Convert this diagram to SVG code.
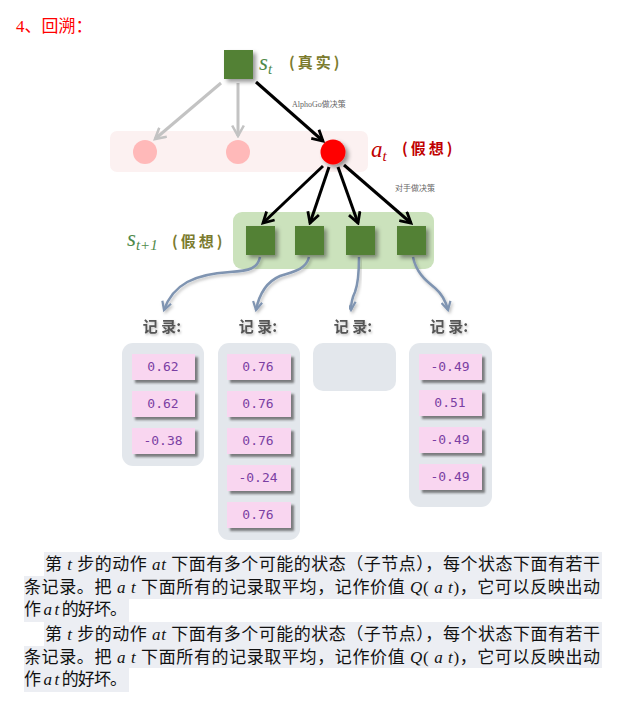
<svg xmlns="http://www.w3.org/2000/svg" width="619" height="702" viewBox="0 0 619 702">
<style>
.sq{fill:#538135;filter:url(#sh)}
.cell{fill:#f9d6f0;filter:url(#csh)}
.num{font-family:"DejaVu Sans Mono","Liberation Mono",monospace;font-size:13px;fill:#7b3fa3;text-anchor:middle}
.box{fill:#e3e7ec}
.rec{font-family:"Noto Sans CJK SC",sans-serif;font-size:15px;font-weight:bold;fill:#555;text-anchor:middle;filter:url(#tsh)}
.small{font-family:"Liberation Serif","Noto Sans CJK SC",serif;font-size:8px;fill:#666}
.body{font-family:"Liberation Serif","Noto Sans CJK SC",serif;font-size:17px;fill:#111}
.it{font-style:italic}
.hl{fill:#eceef3}
.lbl{font-family:"Noto Sans CJK SC",sans-serif;font-weight:bold;font-size:15px;letter-spacing:3px}
.math{font-family:"Liberation Serif",serif;font-style:italic;font-size:23px}
.grey{stroke:#c3c3c3;stroke-width:3;fill:none;marker-end:url(#mg)}
.blk{stroke:#000;stroke-width:3;fill:none;marker-end:url(#mb)}
.blue{stroke:#7f94b1;stroke-width:2.5;fill:none;marker-end:url(#mu);filter:url(#lsh)}
</style>
<defs>
<filter id="sh" x="-30%" y="-30%" width="170%" height="170%"><feDropShadow dx="3" dy="3" stdDeviation="2" flood-color="#000" flood-opacity="0.4"/></filter>
<filter id="csh" x="-20%" y="-30%" width="150%" height="180%"><feDropShadow dx="3" dy="3" stdDeviation="1.2" flood-color="#333" flood-opacity="0.6"/></filter>
<filter id="tsh" x="-20%" y="-30%" width="150%" height="180%"><feDropShadow dx="1" dy="1.5" stdDeviation="1" flood-color="#000" flood-opacity="0.25"/></filter>
<filter id="lsh" x="-20%" y="-20%" width="150%" height="150%"><feDropShadow dx="1.5" dy="2" stdDeviation="1.5" flood-color="#000" flood-opacity="0.25"/></filter>
<marker id="mg" viewBox="0 0 12 12" refX="10" refY="6" markerWidth="14" markerHeight="14" markerUnits="userSpaceOnUse" orient="auto"><path d="M1,1 L10,6 L1,11" fill="none" stroke="#c3c3c3" stroke-width="2.2"/></marker>
<marker id="mb" viewBox="0 0 12 12" refX="10" refY="6" markerWidth="14" markerHeight="14" markerUnits="userSpaceOnUse" orient="auto"><path d="M1,1 L10,6 L1,11" fill="none" stroke="#000" stroke-width="2.4"/></marker>
<marker id="mu" viewBox="0 0 12 12" refX="10" refY="6" markerWidth="11" markerHeight="11" markerUnits="userSpaceOnUse" orient="auto"><path d="M1,1 L10,6 L1,11" fill="none" stroke="#7f94b1" stroke-width="2.4"/></marker>
</defs>
<rect width="619" height="702" fill="#fff"/>
<text x="16" y="32" font-family="Liberation Serif,'Noto Sans CJK SC',serif" font-size="17" fill="#ff0000">4、回溯：</text>

<g id="bands">
<rect x="110" y="131" width="258" height="41" rx="7" fill="#fcf1f1"/>
<rect x="233" y="212" width="201" height="57" rx="9" fill="#cbe2bc"/>
</g>

<g id="connectors">
<path class="grey" d="M221,83 L155,139"/>
<path class="grey" d="M238,83 L238,136"/>
<path class="blk" d="M256,82 L323,141"/>
<path class="blk" d="M323,166 L263,223"/>
<path class="blk" d="M329,167 L310,223"/>
<path class="blk" d="M338,167 L358,223"/>
<path class="blk" d="M344,165 L411,223"/>
<path class="blue" d="M260,257 C258,268 250,271 230,272 C195,274 173,284 164,310"/>
<path class="blue" d="M309,257 C306,270 292,272 280,276 C266,282 259,295 256,310"/>
<path class="blue" d="M359,257 C359,275 358,284 355,292 C352,298 351,303 351,310"/>
<path class="blue" d="M413,257 C416,272 425,280 435,288 C442,294 446,302 448,310"/>
<text class="small" x="292" y="107">AlphoGo做决策</text>
<text class="small" x="395" y="191">对手做决策</text>
</g>

<g id="st">
<rect class="sq" x="224" y="50" width="29" height="29"/>
<text class="math" x="259" y="70" fill="#4f8a4a">s<tspan font-size="15" dy="4">t</tspan></text>
<text class="lbl" x="289" y="68" fill="#7b7b2e">(真实)</text>
</g>

<g id="a1"><circle cx="145" cy="152" r="12" fill="#ffb9b9"/></g>
<g id="a2"><circle cx="238" cy="152" r="12" fill="#ffb9b9"/></g>
<g id="at">
<circle cx="333" cy="152" r="12.5" fill="#ff0000" filter="url(#sh)"/>
<text class="math" x="371" y="157" fill="#c00000">a<tspan font-size="15" dy="4">t</tspan></text>
<text class="lbl" x="402" y="154" fill="#c00000">(假想)</text>
</g>

<g id="st1">
<text class="math" x="127" y="246" fill="#4f8a4a">s<tspan font-size="15" dy="4">t+1</tspan></text>
<text class="lbl" x="172" y="247" fill="#7b7b2e">(假想)</text>
</g>
<g id="s1"><rect class="sq" x="246" y="226" width="29" height="29"/></g>
<g id="s2"><rect class="sq" x="295" y="226" width="29" height="29"/></g>
<g id="s3"><rect class="sq" x="346" y="226" width="29" height="29"/></g>
<g id="s4"><rect class="sq" x="397" y="226" width="29" height="29"/></g>

<g id="r1">
<text class="rec" x="162" y="332">记 录:</text>
<rect class="box" x="122" y="343" width="82" height="123" rx="11"/>
<rect class="cell" x="132" y="354" width="63" height="26"/><text class="num" x="163" y="371">0.62</text>
<rect class="cell" x="132" y="391" width="63" height="26"/><text class="num" x="163" y="408">0.62</text>
<rect class="cell" x="132" y="428" width="63" height="26"/><text class="num" x="163" y="445">-0.38</text>
</g>
<g id="r2">
<text class="rec" x="258" y="332">记 录:</text>
<rect class="box" x="218" y="343" width="82" height="197" rx="11"/>
<rect class="cell" x="227" y="354" width="64" height="26"/><text class="num" x="258" y="371">0.76</text>
<rect class="cell" x="227" y="391" width="64" height="26"/><text class="num" x="258" y="408">0.76</text>
<rect class="cell" x="227" y="428" width="64" height="26"/><text class="num" x="258" y="445">0.76</text>
<rect class="cell" x="227" y="465" width="64" height="26"/><text class="num" x="258" y="482">-0.24</text>
<rect class="cell" x="227" y="502" width="64" height="26"/><text class="num" x="258" y="519">0.76</text>
</g>
<g id="r3">
<text class="rec" x="353" y="332">记 录:</text>
<rect class="box" x="313" y="343" width="83" height="48" rx="10"/>
</g>
<g id="r4">
<text class="rec" x="449" y="332">记 录:</text>
<rect class="box" x="409" y="343" width="83" height="164" rx="11"/>
<rect class="cell" x="419" y="354" width="63" height="26"/><text class="num" x="450" y="371">-0.49</text>
<rect class="cell" x="419" y="390" width="63" height="26"/><text class="num" x="450" y="407">0.51</text>
<rect class="cell" x="419" y="427" width="63" height="26"/><text class="num" x="450" y="444">-0.49</text>
<rect class="cell" x="419" y="464" width="63" height="26"/><text class="num" x="450" y="481">-0.49</text>
</g>

<g id="para1">
<rect class="hl" x="44" y="552" width="558" height="24"/>
<rect class="hl" x="24" y="576" width="578" height="23"/>
<rect class="hl" x="24" y="599" width="105" height="23"/>
<text class="body" x="45" y="570" textLength="555" lengthAdjust="spacing">第 <tspan class="it">t</tspan> 步的动作 <tspan class="it">at</tspan> 下面有多个可能的状态（子节点），每个状态下面有若干</text>
<text class="body" x="24" y="593" textLength="576" lengthAdjust="spacing">条记录。把 <tspan class="it">a t</tspan> 下面所有的记录取平均，记作价值 <tspan class="it">Q</tspan>( <tspan class="it">a t</tspan>)，它可以反映出动</text>
<text class="body" x="24" y="615" textLength="103" lengthAdjust="spacing">作 <tspan class="it">a t</tspan> 的好坏。</text>
</g>
<g id="para2">
<rect class="hl" x="44" y="622" width="558" height="24"/>
<rect class="hl" x="24" y="646" width="578" height="22"/>
<rect class="hl" x="24" y="668" width="105" height="24"/>
<text class="body" x="45" y="640" textLength="555" lengthAdjust="spacing">第 <tspan class="it">t</tspan> 步的动作 <tspan class="it">at</tspan> 下面有多个可能的状态（子节点），每个状态下面有若干</text>
<text class="body" x="24" y="663" textLength="576" lengthAdjust="spacing">条记录。把 <tspan class="it">a t</tspan> 下面所有的记录取平均，记作价值 <tspan class="it">Q</tspan>( <tspan class="it">a t</tspan>)，它可以反映出动</text>
<text class="body" x="24" y="685" textLength="103" lengthAdjust="spacing">作 <tspan class="it">a t</tspan> 的好坏。</text>
</g>
</svg>
